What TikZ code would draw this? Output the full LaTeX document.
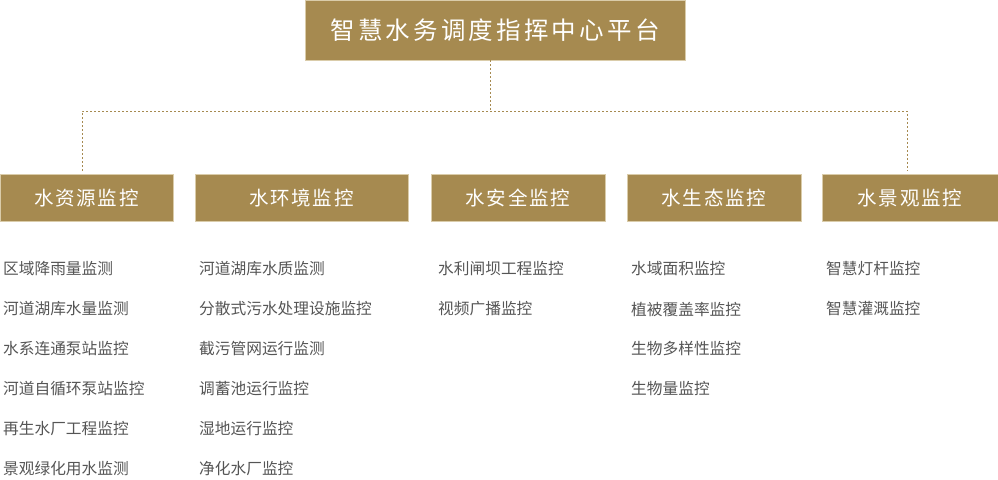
\documentclass[tikz,border=0pt]{standalone}
\usepackage{fontspec}
\setmainfont{Noto Sans CJK SC}
\newfontfamily\headfont[LetterSpace=13]{Noto Sans CJK SC}
\newfontfamily\catfont[LetterSpace=9]{Noto Sans CJK SC}
\definecolor{gold}{HTML}{A68A50}
\definecolor{goldedge}{HTML}{DACCAA}
\definecolor{itemgray}{HTML}{555555}
\tikzset{%
  topbox/.style={draw=goldedge,fill=gold,text=white,line width=.8pt,inner sep=0,
    minimum width=380pt,minimum height=60pt,font=\headfont\fontsize{24.5}{24.5}\selectfont},
  catbox/.style={draw=goldedge,fill=gold,text=white,line width=.8pt,inner sep=0,
    minimum height=47pt,font=\catfont\fontsize{19.5}{19.5}\selectfont},
  item/.style={anchor=west,inner sep=0,text=itemgray,font=\fontsize{15.7}{15.7}\selectfont},
  dotline/.style={draw=gold,line width=.8pt,dash pattern=on 2pt off 2pt}
}
\begin{document}
\begin{tikzpicture}[x=1pt,y=-1pt]
    \useasboundingbox (0,0) rectangle (998,479);
    \node[topbox] (hub) at (495,30) {智慧水务调度指挥中心平台};
    \path
      (86.5,198) node[catbox,minimum width=173pt] (res) {水资源监控}
      (301.5,198) node[catbox,minimum width=213pt] (env) {水环境监控}
      (518,198) node[catbox,minimum width=174pt] (saf) {水安全监控}
      (714,198) node[catbox,minimum width=174pt] (eco) {水生态监控}
      (910,198) node[catbox,minimum width=176pt] (lan) {水景观监控};
    \coordinate (mid) at (490,111);
    \coordinate (lft) at (82,111);
    \coordinate (rgt) at (907,111);
    \coordinate (lftend) at (82,171);
    \coordinate (rgtend) at (907,171);
    \draw[dotline] (hub.south -| mid) -- (mid);
    \draw[dotline] (lftend) -- (lft) -- (rgt) -- (rgtend);
    % item lists
    \foreach \t [count=\i] in {区域降雨量监测,河道湖库水量监测,水系连通泵站监控,河道自循环泵站监控,再生水厂工程监控,景观绿化用水监测}
      \node[item] (res\i) at (3,229+40*\i) {\t};
    \foreach \t [count=\i] in {河道湖库水质监测,分散式污水处理设施监控,截污管网运行监测,调蓄池运行监控,湿地运行监控,净化水厂监控}
      \node[item] (env\i) at (199,229+40*\i) {\t};
    \foreach \t [count=\i] in {水利闸坝工程监控,视频广播监控}
      \node[item] (saf\i) at (438,229+40*\i) {\t};
    \foreach \t [count=\i] in {水域面积监控,植被覆盖率监控,生物多样性监控,生物量监控}
      \node[item] (eco\i) at (631,229+40*\i) {\t};
    \foreach \t [count=\i] in {智慧灯杆监控,智慧灌溉监控}
      \node[item] (lan\i) at (826,229+40*\i) {\t};
  \end{tikzpicture}
\end{document}
